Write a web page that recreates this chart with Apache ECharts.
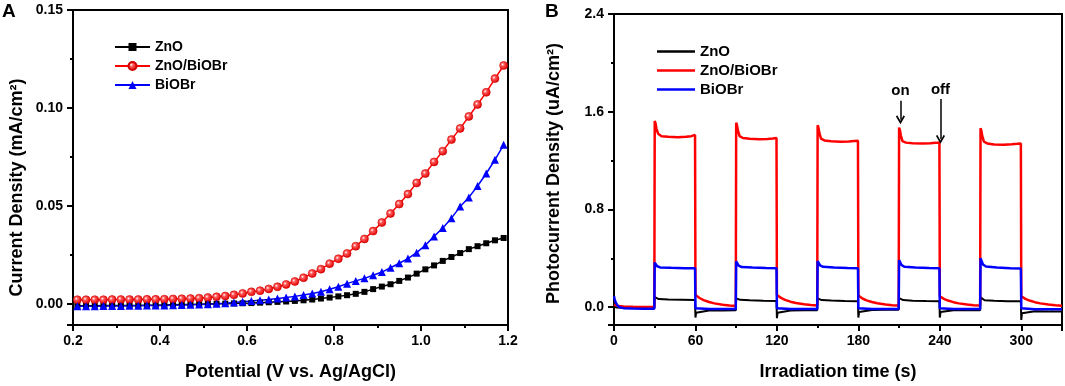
<!DOCTYPE html>
<html>
<head>
<meta charset="utf-8">
<script src="https://cdn.jsdelivr.net/npm/echarts@6/dist/echarts.min.js"></script>
<style>
  html, body { margin: 0; padding: 0; background: #fff; }
  #chart { width: 1065px; height: 386px; }
</style>
</head>
<body>
<div id="chart"></div>
<script>
// ---- panel A: LSV curves (potential in V, current density in mA/cm2) ----
const potential = [0.21, 0.23, 0.25, 0.27, 0.29, 0.31, 0.33, 0.35, 0.37, 0.39,
  0.41, 0.43, 0.45, 0.47, 0.49, 0.51, 0.53, 0.55, 0.57, 0.59,
  0.61, 0.63, 0.65, 0.67, 0.69, 0.71, 0.73, 0.75, 0.77, 0.79,
  0.81, 0.83, 0.85, 0.87, 0.89, 0.91, 0.93, 0.95, 0.97, 0.99,
  1.01, 1.03, 1.05, 1.07, 1.09, 1.11, 1.13, 1.15, 1.17, 1.19];
const lsvZnO = [-0.0009, -0.0009, -0.0009, -0.0008, -0.0008, -0.0008, -0.0007, -0.0007, -0.0006, -0.0006,
  -0.0005, -0.0004, -0.0003, -0.0002, -0.0001, 0.0000, 0.0001, 0.0002, 0.0003, 0.0004,
  0.0005, 0.0007, 0.0009, 0.0011, 0.0013, 0.0016, 0.0019, 0.0023, 0.0028, 0.0033,
  0.0039, 0.0045, 0.0052, 0.0062, 0.0076, 0.0089, 0.0101, 0.0118, 0.0135, 0.0155,
  0.0177, 0.0197, 0.0220, 0.0240, 0.0260, 0.0280, 0.0295, 0.0310, 0.0325, 0.0337];
const lsvComposite = [0.0022, 0.0022, 0.0022, 0.0022, 0.0023, 0.0023, 0.0023, 0.0023, 0.0024, 0.0024,
  0.0025, 0.0026, 0.0027, 0.0028, 0.0030, 0.0033, 0.0037, 0.0041, 0.0047, 0.0054,
  0.0062, 0.0068, 0.0077, 0.0088, 0.0100, 0.0115, 0.0134, 0.0156, 0.0178, 0.0206,
  0.0231, 0.0258, 0.0295, 0.0332, 0.0372, 0.0416, 0.0462, 0.0510, 0.0561, 0.0618,
  0.0666, 0.0725, 0.0780, 0.0839, 0.0896, 0.0957, 0.1018, 0.1080, 0.1150, 0.1217];
const lsvBiOBr = [-0.0011, -0.0011, -0.0011, -0.0010, -0.0010, -0.0010, -0.0009, -0.0009, -0.0008, -0.0008,
  -0.0007, -0.0006, -0.0005, -0.0004, -0.0003, -0.0001, 0.0001, 0.0004, 0.0008, 0.0012,
  0.0015, 0.0019, 0.0023, 0.0028, 0.0033, 0.0039, 0.0046, 0.0054, 0.0063, 0.0075,
  0.0088, 0.0104, 0.0118, 0.0131, 0.0147, 0.0163, 0.0185, 0.0208, 0.0232, 0.0262,
  0.0300, 0.0345, 0.0388, 0.0438, 0.0497, 0.0544, 0.0602, 0.0666, 0.0736, 0.0812];

// axis ranges and tick steps: [min, max, step, decimals]
const xAxisA = [0.2, 1.2, 0.2, 1];
const yAxisA = [-0.0107, 0.15, 0.05, 2];

// ---- panel B: chopped-light photocurrent, [time s, uA/cm2] ----
const itZnO = [[0, 0.004], [2, -0.002], [8, -0.005], [20, -0.005], [29.7, -0.005],
  [30, 0.082], [30.8, 0.072], [33, 0.066], [40, 0.062], [50, 0.060], [59.7, 0.058],
  [60, -0.085], [60.5, -0.045], [61.5, -0.032], [70, -0.028], [80, -0.027], [89.7, -0.026],
  [90, 0.072], [90.8, 0.065], [93, 0.060], [100, 0.056], [110, 0.053], [119.7, 0.051],
  [120, -0.090], [120.5, -0.045], [121.5, -0.030], [130, -0.027], [140, -0.026], [149.7, -0.025],
  [150, 0.072], [150.8, 0.064], [153, 0.058], [160, 0.054], [170, 0.050], [179.7, 0.049],
  [180, -0.085], [180.5, -0.040], [181.5, -0.026], [190, -0.023], [200, -0.022], [209.7, -0.021],
  [210, 0.074], [210.8, 0.065], [213, 0.058], [220, 0.053], [230, 0.050], [239.7, 0.049],
  [240, -0.085], [240.5, -0.040], [241.5, -0.028], [250, -0.026], [260, -0.025], [269.7, -0.025],
  [270, 0.080], [270.8, 0.066], [273, 0.057], [280, 0.052], [290, 0.049], [299.7, 0.048],
  [300, -0.105], [300.5, -0.050], [301.5, -0.036], [310, -0.034], [320, -0.035], [330, -0.036]];
const itComposite = [[0, 0.022], [1, 0.015], [3, 0.009], [7, 0.005], [14, 0.003], [22, 0.002], [29.7, 0.001],
  [30, 1.525], [30.6, 1.505], [31.3, 1.46], [32.5, 1.42], [35, 1.40], [40, 1.395], [47, 1.392], [53, 1.395], [57, 1.40], [59.7, 1.41],
  [60, 0.100], [61, 0.090], [63, 0.075], [66, 0.058], [70, 0.042], [74, 0.031], [80, 0.020], [85, 0.014], [89.7, 0.010],
  [90, 1.51], [90.6, 1.49], [91.3, 1.445], [92.5, 1.40], [95, 1.385], [100, 1.378], [107, 1.375], [113, 1.377], [117, 1.38], [119.7, 1.385],
  [120, 0.100], [121, 0.090], [123, 0.076], [126, 0.060], [130, 0.045], [134, 0.034], [140, 0.024], [145, 0.018], [149.7, 0.014],
  [150, 1.49], [150.6, 1.47], [151.3, 1.425], [152.5, 1.38], [155, 1.365], [160, 1.358], [167, 1.355], [173, 1.357], [177, 1.36], [179.7, 1.362],
  [180, 0.095], [181, 0.085], [183, 0.071], [186, 0.056], [190, 0.042], [194, 0.032], [200, 0.022], [205, 0.016], [209.7, 0.013],
  [210, 1.47], [210.6, 1.45], [211.3, 1.405], [212.5, 1.36], [215, 1.347], [220, 1.342], [227, 1.34], [233, 1.342], [237, 1.345], [239.7, 1.348],
  [240, 0.090], [241, 0.082], [243, 0.068], [246, 0.054], [250, 0.041], [254, 0.031], [260, 0.021], [265, 0.016], [269.7, 0.013],
  [270, 1.465], [270.6, 1.445], [271.3, 1.40], [272.5, 1.355], [275, 1.34], [280, 1.332], [287, 1.33], [293, 1.333], [297, 1.337], [299.7, 1.34],
  [300, 0.090], [301, 0.082], [303, 0.068], [306, 0.054], [310, 0.041], [314, 0.031], [320, 0.021], [325, 0.015], [330, 0.012]];
const itBiOBr = [[0, 0.090], [0.4, 0.070], [1.2, 0.040], [2.5, 0.015], [4, 0.000], [7, -0.008], [14, -0.011], [22, -0.012], [29.7, -0.012],
  [30, 0.365], [30.7, 0.355], [31.8, 0.335], [34, 0.325], [42, 0.322], [52, 0.319], [59.7, 0.318],
  [60, -0.008], [60.8, -0.014], [70, -0.016], [80, -0.016], [89.7, -0.016],
  [90, 0.375], [90.7, 0.362], [91.8, 0.340], [94, 0.328], [102, 0.324], [112, 0.320], [119.7, 0.318],
  [120, -0.008], [120.8, -0.014], [130, -0.016], [140, -0.016], [149.7, -0.016],
  [150, 0.378], [150.7, 0.365], [151.8, 0.342], [154, 0.330], [162, 0.325], [172, 0.320], [179.7, 0.318],
  [180, -0.008], [180.8, -0.013], [190, -0.015], [200, -0.015], [209.7, -0.015],
  [210, 0.385], [210.7, 0.370], [211.8, 0.345], [214, 0.330], [222, 0.325], [232, 0.320], [239.7, 0.318],
  [240, -0.008], [240.8, -0.014], [250, -0.016], [260, -0.016], [269.7, -0.016],
  [270, 0.400], [270.7, 0.380], [271.8, 0.350], [274, 0.332], [282, 0.324], [292, 0.318], [299.7, 0.316],
  [300, -0.008], [300.8, -0.015], [310, -0.017], [320, -0.017], [330, -0.017]];

const xAxisB = [0, 330, 60, 0];
const yAxisB = [-0.146, 2.4, 0.8, 1];

// light on / off markers
const arrowLabels = ['on', 'off'];
const arrowTime = [211, 240.5];
const arrowTop = [1.69, 1.705];
const arrowEnd = [1.535, 1.375];

const seriesNames = ['ZnO', 'ZnO/BiOBr', 'BiOBr'];

const font = 'Liberation Sans';
const ink = '#000';
const RED = '#ff0000', BLUE = '#0000ff';

const chart = echarts.init(document.getElementById('chart'), null, { renderer: 'canvas' });

// value axis; ticks forced to multiples of step (min may sit off the grid of steps)
function axis(gridIndex, position, spec, name, nameGap, extraName) {
  const [min, max, step, decimals] = spec;
  const onStep = v => Math.abs(v / step - Math.round(v / step)) < 1e-6;
  return {
    type: 'value', gridIndex, position, min, max,
    minInterval: step, maxInterval: step, splitNumber: Math.round((max - min) / step),
    name, nameLocation: 'middle', nameGap,
    nameTextStyle: Object.assign({ color: ink, fontFamily: font, fontWeight: 'bold', fontSize: 18 }, extraName || {}),
    axisLine: { show: true, onZero: false, lineStyle: { color: ink, width: 2 } },
    axisTick: { show: true, inside: false, length: 6, lineStyle: { color: ink, width: 2 } },
    minorTick: { show: true, splitNumber: 2, length: 3, lineStyle: { color: ink, width: 2 } },
    axisLabel: {
      color: ink, fontFamily: font, fontWeight: 'bold', fontSize: 14,
      margin: position === 'left' ? 10 : 9,
      formatter: v => (onStep(v) ? Number(v).toFixed(decimals) : '')
    },
    splitLine: { show: false },
    minorSplitLine: { show: false }
  };
}
// plain line used for the top and right sides of the frame
function frameSide(gridIndex, position, spec) {
  return {
    type: 'value', gridIndex, position, min: spec[0], max: spec[1],
    axisLine: { show: true, onZero: false, lineStyle: { color: ink, width: 2 } },
    axisTick: { show: false }, axisLabel: { show: false }, splitLine: { show: false }
  };
}

const redBall = new echarts.graphic.RadialGradient(0.38, 0.38, 0.62, [
  { offset: 0, color: '#ffffff' },
  { offset: 0.3, color: '#ff5a5a' },
  { offset: 1, color: '#e00000' }
]);

const chevron = 'path://M5,0 L10,7 L8.6,8.2 L5,3 L1.4,8.2 L0,7 Z';
const lineIcon = 'path://M0,0 L38,0 L38,2.5 L0,2.5 Z';

const option = {
  animation: false,
  backgroundColor: '#fff',
  graphic: [
    { type: 'text', left: 2, top: 2, style: { text: 'A', fill: ink, font: 'bold 19px "Liberation Sans"' } },
    { type: 'text', left: 545, top: 2, style: { text: 'B', fill: ink, font: 'bold 19px "Liberation Sans"' } }
  ],
  grid: [
    { left: 73, top: 10, width: 435, height: 316 },
    { left: 614, top: 14, width: 448, height: 314 }
  ],
  legend: [
    {
      left: 114, top: 40, padding: 0, orient: 'vertical', itemWidth: 35, itemHeight: 10, itemGap: 5,
      data: seriesNames,
      textStyle: { color: ink, fontFamily: font, fontWeight: 'bold', fontSize: 14, lineHeight: 14 }
    },
    {
      left: 657, top: 44, padding: 0, orient: 'vertical', itemWidth: 38, itemHeight: 3, itemGap: 4,
      icon: lineIcon,
      data: seriesNames.map(n => n + ' (B)'),
      formatter: n => n.replace(' (B)', ''),
      textStyle: { color: ink, fontFamily: font, fontWeight: 'bold', fontSize: 15, lineHeight: 15 }
    }
  ],
  xAxis: [
    axis(0, 'bottom', xAxisA, 'Potential (V vs. Ag/AgCl)', 38),
    frameSide(0, 'top', xAxisA),
    axis(1, 'bottom', xAxisB, 'Irradiation time (s)', 38),
    frameSide(1, 'top', xAxisB)
  ],
  yAxis: [
    axis(0, 'left', yAxisA, 'Current Density (mA/cm²)', 47, { padding: [0, 40, 0, 0] }),
    frameSide(0, 'right', yAxisA),
    axis(1, 'left', yAxisB, 'Photocurrent Density (uA/cm²)', 51, { padding: [0, 8, 0, 0] }),
    frameSide(1, 'right', yAxisB)
  ],
  series: [
    {
      name: 'ZnO', type: 'line', xAxisIndex: 0, yAxisIndex: 0,
      data: potential.map((p, i) => [p, lsvZnO[i]]),
      symbol: 'rect', symbolSize: 6,
      itemStyle: { color: ink }, lineStyle: { color: ink, width: 1.5 }
    },
    {
      name: 'ZnO/BiOBr', type: 'line', xAxisIndex: 0, yAxisIndex: 0,
      data: potential.map((p, i) => [p, lsvComposite[i]]),
      symbol: 'circle', symbolSize: 8,
      itemStyle: { color: redBall, borderColor: '#d00000', borderWidth: 0.6 }, lineStyle: { color: RED, width: 1.5 }
    },
    {
      name: 'BiOBr', type: 'line', xAxisIndex: 0, yAxisIndex: 0,
      data: potential.map((p, i) => [p, lsvBiOBr[i]]),
      symbol: 'triangle', symbolSize: 8,
      itemStyle: { color: BLUE }, lineStyle: { color: BLUE, width: 1.5 }
    },
    {
      name: 'ZnO (B)', type: 'line', xAxisIndex: 2, yAxisIndex: 2,
      data: itZnO, symbol: 'none',
      itemStyle: { color: ink }, lineStyle: { color: ink, width: 2 }
    },
    {
      name: 'ZnO/BiOBr (B)', type: 'line', xAxisIndex: 2, yAxisIndex: 2,
      data: itComposite, symbol: 'none',
      itemStyle: { color: RED }, lineStyle: { color: RED, width: 2.5 },
      markLine: {
        silent: true,
        symbol: ['none', chevron],
        symbolSize: [9, 9],
        lineStyle: { color: ink, width: 1.5, type: 'solid' },
        label: {
          show: true, position: 'start', distance: 2, formatter: p => p.name,
          color: ink, fontFamily: font, fontWeight: 'bold', fontSize: 15
        },
        data: arrowLabels.map((lab, i) => [
          { name: lab, coord: [arrowTime[i], arrowTop[i]] },
          { coord: [arrowTime[i], arrowEnd[i]] }
        ])
      }
    },
    {
      name: 'BiOBr (B)', type: 'line', xAxisIndex: 2, yAxisIndex: 2,
      data: itBiOBr, symbol: 'none',
      itemStyle: { color: BLUE }, lineStyle: { color: BLUE, width: 2.5 }
    }
  ]
};

chart.setOption(option);
</script>
</body>
</html>
